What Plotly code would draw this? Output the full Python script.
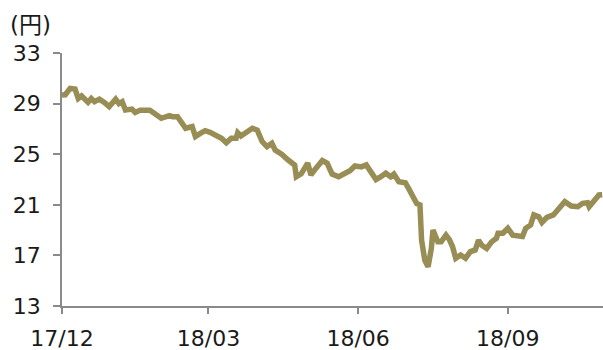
import plotly.graph_objects as go

dates = [
    "2017-12-01", "2017-12-03", "2017-12-06", "2017-12-09", "2017-12-11", "2017-12-13",
    "2017-12-17", "2017-12-19", "2017-12-21", "2017-12-24", "2017-12-27", "2017-12-30",
    "2018-01-03", "2018-01-05", "2018-01-07", "2018-01-09", "2018-01-13", "2018-01-15",
    "2018-01-18", "2018-01-24", "2018-01-26", "2018-01-31", "2018-02-05", "2018-02-07",
    "2018-02-10", "2018-02-12", "2018-02-15", "2018-02-19", "2018-02-21", "2018-02-24",
    "2018-02-27", "2018-03-02", "2018-03-05", "2018-03-09", "2018-03-12", "2018-03-15",
    "2018-03-18", "2018-03-19", "2018-03-21", "2018-03-25", "2018-03-28", "2018-03-31",
    "2018-04-03", "2018-04-06", "2018-04-09", "2018-04-11", "2018-04-15", "2018-04-19",
    "2018-04-23", "2018-04-24", "2018-04-27", "2018-05-01", "2018-05-03", "2018-05-06",
    "2018-05-10", "2018-05-13", "2018-05-16", "2018-05-20", "2018-05-23", "2018-05-27",
    "2018-05-30", "2018-06-03", "2018-06-06", "2018-06-09", "2018-06-12", "2018-06-15",
    "2018-06-18", "2018-06-21", "2018-06-23", "2018-06-26", "2018-06-30", "2018-07-02",
    "2018-07-05", "2018-07-07", "2018-07-09", "2018-07-10", "2018-07-12", "2018-07-14",
    "2018-07-16", "2018-07-17", "2018-07-20", "2018-07-22", "2018-07-25", "2018-07-27",
    "2018-07-29", "2018-07-31", "2018-08-03", "2018-08-06", "2018-08-09", "2018-08-12",
    "2018-08-14", "2018-08-16", "2018-08-19", "2018-08-22", "2018-08-25", "2018-08-26",
    "2018-08-29", "2018-09-01", "2018-09-04", "2018-09-08", "2018-09-10", "2018-09-12",
    "2018-09-15", "2018-09-17", "2018-09-20", "2018-09-22", "2018-09-25", "2018-09-29",
    "2018-10-01", "2018-10-04", "2018-10-06", "2018-10-10", "2018-10-14", "2018-10-17",
    "2018-10-20", "2018-10-21", "2018-10-24", "2018-10-27", "2018-10-29",
]

prices = [
    29.68, 29.70, 30.20, 30.15, 29.40, 29.60,
    29.10, 29.40, 29.15, 29.35, 29.10, 28.76,
    29.35, 29.00, 29.15, 28.50, 28.57, 28.30,
    28.47, 28.47, 28.30, 27.84, 28.05, 27.97,
    27.97, 27.65, 27.05, 27.18, 26.40, 26.65,
    26.86, 26.73, 26.52, 26.26, 25.90, 26.26,
    26.26, 26.70, 26.44, 26.78, 27.05, 26.90,
    26.00, 25.60, 25.86, 25.33, 25.00, 24.54,
    24.15, 23.22, 23.45, 24.30, 23.36, 23.88,
    24.50, 24.28, 23.43, 23.22, 23.43, 23.70,
    24.07, 24.00, 24.15, 23.50, 23.00, 23.22,
    23.50, 23.22, 23.43, 22.83, 22.75, 22.30,
    21.50, 21.10, 21.00, 18.20, 16.60, 16.10,
    17.55, 19.00, 18.07, 18.07, 18.60, 18.27,
    17.70, 16.77, 17.03, 16.77, 17.30, 17.43,
    18.20, 17.80, 17.55, 18.07, 18.35, 18.75,
    18.75, 19.14, 18.60, 18.60, 18.50, 19.14,
    19.40, 20.20, 20.06, 19.60, 20.00, 20.20,
    20.46, 20.90, 21.25, 20.90, 20.85, 21.12,
    21.17, 20.85, 21.38, 21.78, 21.80,
]

x_tickvals = ["2017-12-01", "2018-03-01", "2018-06-01", "2018-09-01"]
x_ticktext = ["17/12", "18/03", "18/06", "18/09"]
y_tickvals = [13, 17, 21, 25, 29, 33]

FONT = "DejaVu Sans, Verdana, Noto Sans CJK JP"
AXIS_COLOR = "#8a8a8a"

fig = go.Figure()
fig.add_trace(go.Scatter(
    x=dates, y=prices, mode="lines",
    line=dict(color="#978D55", width=5.5),
    showlegend=False, hoverinfo="skip",
))

fig.update_layout(
    width=603, height=350,
    margin=dict(l=62, r=0, t=53, b=44),
    paper_bgcolor="white", plot_bgcolor="white",
    font=dict(family=FONT, size=22, color="#1a1a1a"),
    xaxis=dict(
        type="date",
        range=["2017-12-01", "2018-10-29 12:00"],
        tickvals=x_tickvals, ticktext=x_ticktext,
        showgrid=False, zeroline=False, automargin=False,
        showline=True, linecolor=AXIS_COLOR, linewidth=1.5,
        ticks="outside", ticklen=6, tickcolor=AXIS_COLOR, tickwidth=1.5,
        ticklabelstandoff=6,
        tickfont=dict(family=FONT, size=22),
    ),
    yaxis=dict(
        range=[13, 33],
        tickvals=y_tickvals,
        showgrid=False, zeroline=False, automargin=False,
        showline=True, linecolor=AXIS_COLOR, linewidth=1.5,
        ticks="outside", ticklen=7, tickcolor=AXIS_COLOR, tickwidth=1.5,
        ticklabelstandoff=8,
        tickfont=dict(family=FONT, size=22),
    ),
    annotations=[dict(
        text="(円)", xref="paper", yref="paper",
        x=-54 / 541, y=1 + 28 / 253, xanchor="left", yanchor="middle",
        showarrow=False, font=dict(family=FONT, size=23, color="#1a1a1a"),
    )],
)

fig.write_html("out.html")
